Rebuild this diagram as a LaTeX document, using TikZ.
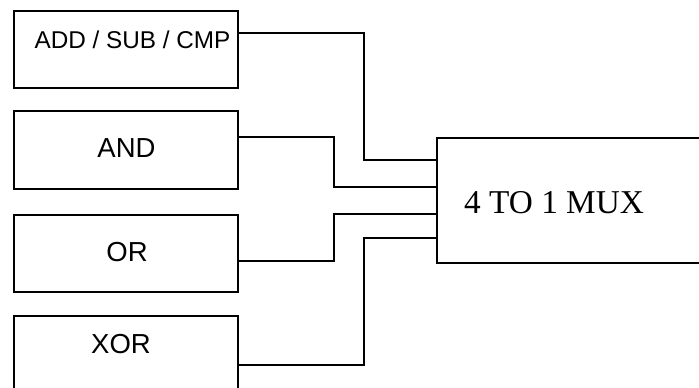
\documentclass[tikz,border=0pt]{standalone}
\usepackage{fontspec}
\setmainfont{Liberation Serif}
\newfontfamily\boxfont{Liberation Sans}
\begin{document}
\begin{tikzpicture}[x=1pt,y=-1pt,
  box/.style={draw=black, line width=2pt, anchor=north west, inner sep=0pt},
  wire/.style={draw=black, line width=2pt},
  lbl/.style={anchor=base, inner sep=0pt, font=\boxfont\fontsize{27.5}{31}\selectfont}]
\useasboundingbox (0,0) rectangle (699,388);
\fill[white] (0,0) rectangle (699,388);
\clip (0,0) rectangle (699,388);
% boxes
\node[box, minimum width=224pt, minimum height=77pt] (b1) at (13,10) {};
\node[box, minimum width=224pt, minimum height=78pt] (b2) at (13,110) {};
\node[box, minimum width=224pt, minimum height=77pt] (b3) at (13,214) {};
\node[box, minimum width=224pt, minimum height=100pt] (b4) at (13,315) {};
\node[box, minimum width=300pt, minimum height=125pt] (mux) at (436,137) {};
% labels
\node[lbl, font=\boxfont\fontsize{24.3}{28}\selectfont] (t1) at (132.5,48.5) {ADD / SUB / CMP};
\node[lbl] (t2) at (126.5,157) {AND};
\node[lbl] (t3) at (127,261.5) {OR};
\node[lbl] (t4) at (121,353) {XOR};
\node[anchor=base west, inner sep=0pt, font=\fontsize{33.3}{38}\selectfont] (tm) at (464,213) {4 TO 1 MUX};
% ports
\coordinate (o1) at (237,33);
\coordinate (o2) at (237,137);
\coordinate (o3) at (237,261);
\coordinate (o4) at (237,365);
\coordinate (i1) at (436,160);
\coordinate (i2) at (436,187);
\coordinate (i3) at (436,214);
\coordinate (i4) at (436,238);
% wires
\draw[wire] (o1) -- ++(127,0) |- (i1);
\draw[wire] (o2) -- ++(97,0) |- (i2);
\draw[wire] (o3) -- ++(97,0) |- (i3);
\draw[wire] (o4) -- ++(127,0) |- (i4);
\end{tikzpicture}
\end{document}
